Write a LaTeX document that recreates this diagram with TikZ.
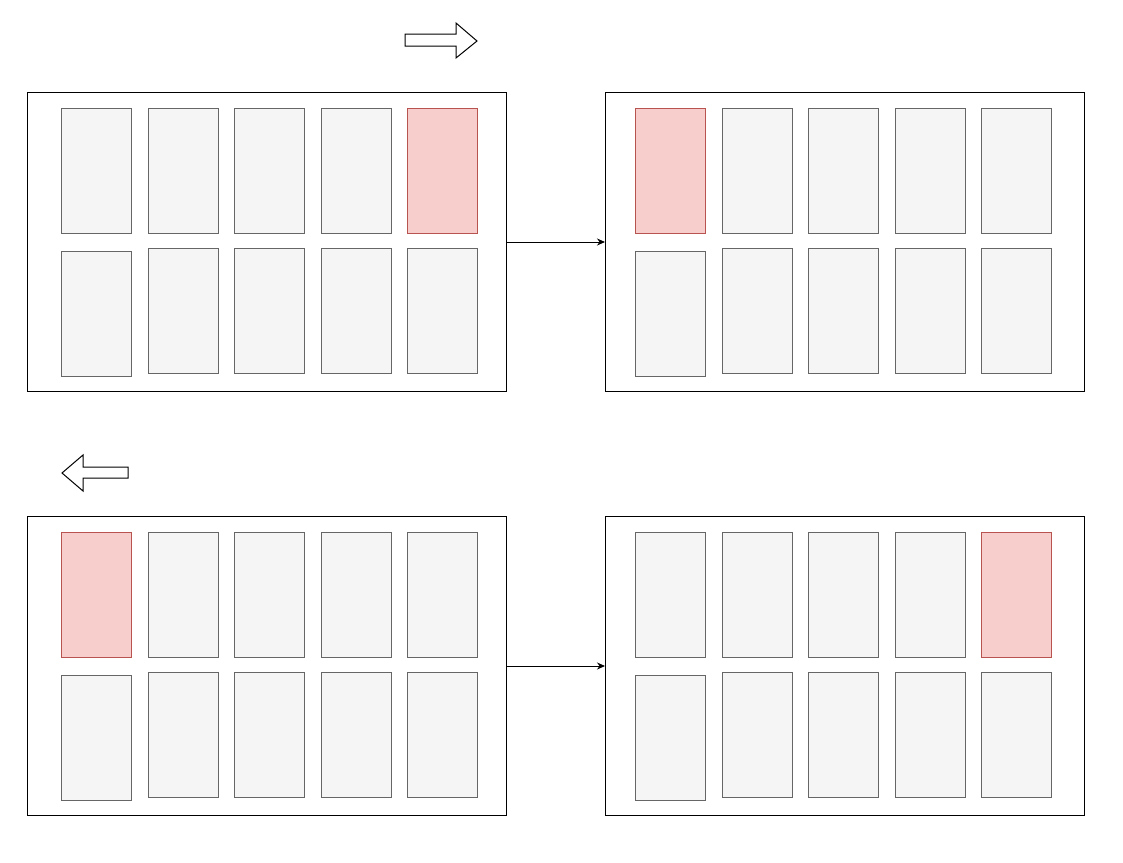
\documentclass[tikz,border=0pt]{standalone}
\usetikzlibrary{arrows.meta}

\definecolor{cardfill}{HTML}{F5F5F5}
\definecolor{cardline}{HTML}{666666}
\definecolor{hotfill}{HTML}{F8CECC}
\definecolor{hotline}{HTML}{B85450}

\tikzset{
	panel/.style={draw=black, line width=1pt, minimum width=479pt, minimum height=299pt, inner sep=0pt, anchor=north west},
	card/.style={draw=cardline, fill=cardfill, line width=1pt, minimum width=70pt, minimum height=125pt, inner sep=0pt, anchor=north west},
	hotcard/.style={card, draw=hotline, fill=hotfill},
	blockarrow/.style={draw=black, line width=1pt, fill=white, line join=miter}
}

% panel of ten cards: name, left, top, left of first card, column of the red card
\newcommand{\cardpanel}[5]{%
	\node[panel] (#1) at (#2,#3) {};
	\foreach \c in {0,...,4}{
		\ifnum\c=#5
			\node[hotcard] (#1-top-\c) at (#4+86.5*\c,#3+16) {};
		\else
			\node[card] (#1-top-\c) at (#4+86.5*\c,#3+16) {};
		\fi
		\pgfmathsetmacro{\by}{\c==0 ? 159 : 156}
		\node[card] (#1-bot-\c) at (#4+86.5*\c,#3+\by) {};
	}
}

\begin{document}
\begin{tikzpicture}[x=1pt,y=-1pt]
	\useasboundingbox (0,0) rectangle (1123,862);
	% panels
	\cardpanel{tl}{27}{92}{61}{4}
	\cardpanel{tr}{605}{92}{635}{0}
	\cardpanel{bl}{27}{516}{61}{0}
	\cardpanel{br}{605}{516}{635}{4}
	% connectors
	\draw [line width=1pt, -{Stealth[length=8pt,width=7pt]}] (tl.east) -- (tr.west);
	\draw [line width=1pt, -{Stealth[length=8pt,width=7pt]}] (bl.east) -- (br.west);
	% direction marks
	\draw [blockarrow] (405,34) -- (456,34) -- (456,23) -- (477,41) -- (456,58) -- (456,46) -- (405,46) -- cycle;
	\draw [blockarrow] (128,467) -- (83,467) -- (83,455) -- (62,473) -- (83,491) -- (83,478) -- (128,478) -- cycle;
\end{tikzpicture}
\end{document}
